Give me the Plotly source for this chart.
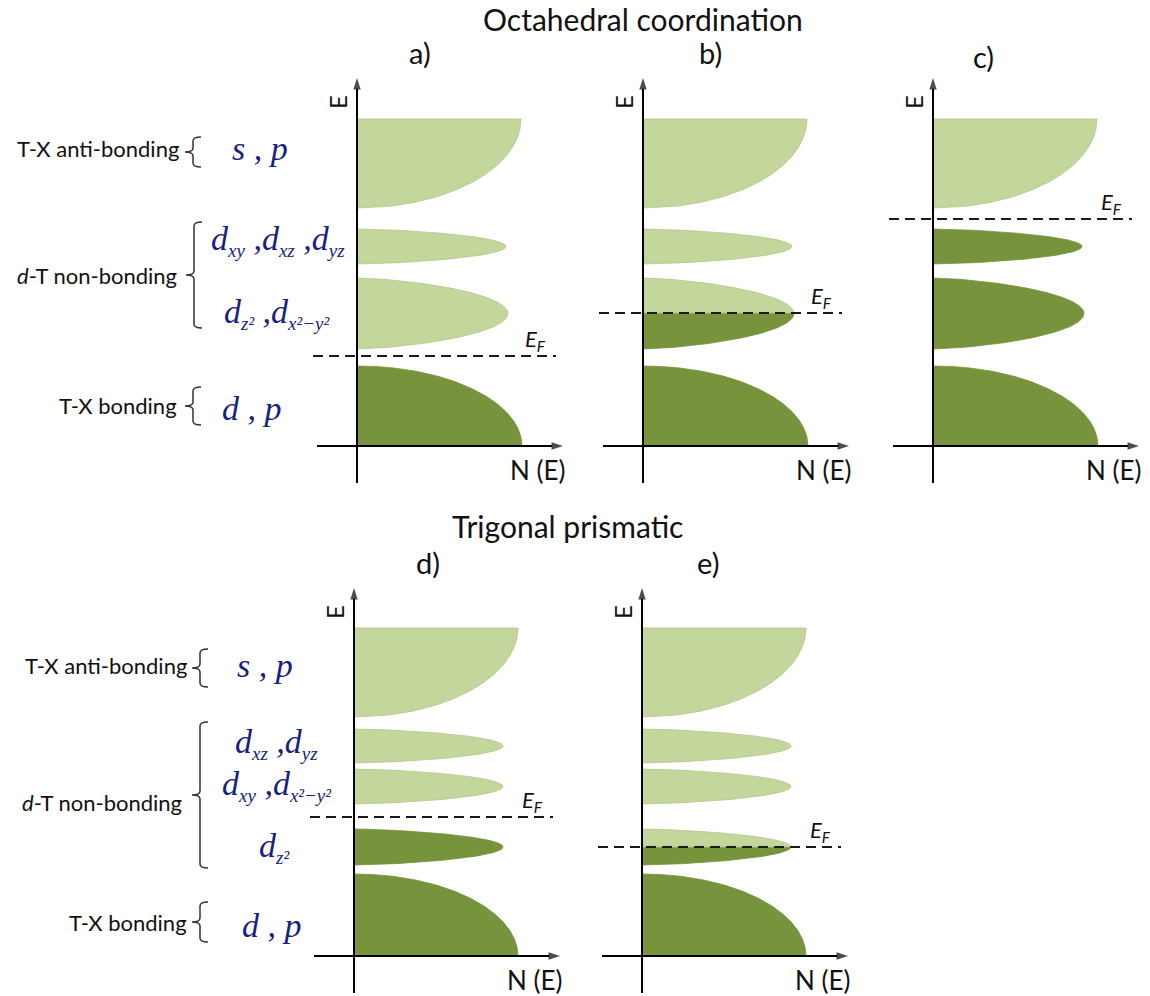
import numpy as np
import plotly.graph_objects as go

FIG_W, FIG_H = 1150, 996

# ---------------- data ----------------
panel_tags = ["a)", "b)", "c)", "d)", "e)"]
row_titles = ["Octahedral coordination", "Trigonal prismatic"]

# Octahedral coordination: bands from bottom to top (energy, arb. units)
oct_kind = ["bottom", "half", "half", "top"]
oct_e_lo = [0.0, 9.7, 18.2, 23.8]
oct_e_hi = [8.0, 16.8, 21.7, 32.7]
oct_dos = [16.5, 15.1, 14.9, 16.4]
oct_fermi = [9.0, 13.3, 22.7]          # panels a, b, c

# Trigonal prismatic coordination
tp_kind = ["bottom", "half", "half", "half", "top"]
tp_e_lo = [0.0, 9.1, 15.2, 19.3, 23.9]
tp_e_hi = [8.2, 12.7, 18.7, 22.7, 32.8]
tp_dos = [16.4, 14.9, 14.9, 14.9, 16.4]
tp_fermi = [13.9, 10.9]                # panels d, e

group_names = ["T-X anti-bonding", "<i>d</i>-T non-bonding", "T-X bonding"]
oct_group_e = [29.8, 17.1, 4.1]
oct_brace_lo = [27.9, 11.8, 2.1]
oct_brace_hi = [30.9, 22.4, 5.9]
tp_group_e = [29.1, 15.4, 3.4]
tp_brace_lo = [26.9, 8.8, 1.4]
tp_brace_hi = [30.7, 23.4, 5.4]

SUB = "<sub><span style='font-size:19px'>{}</span></sub>"
oct_orbitals = ["s , p",
                "d" + SUB.format("xy") + " ,d" + SUB.format("xz") + " ,d" + SUB.format("yz"),
                "d" + SUB.format("z²") + " ,d" + SUB.format("x²−y²"),
                "d , p"]
oct_orbital_e = [29.8, 20.6, 13.3, 3.8]
tp_orbitals = ["s , p",
               "d" + SUB.format("xz") + " ,d" + SUB.format("yz"),
               "d" + SUB.format("xy") + " ,d" + SUB.format("x²−y²"),
               "d" + SUB.format("z²"),
               "d , p"]
tp_orbital_e = [29.1, 21.3, 17.1, 10.9, 3.1]

# ---------------- styling / layout ----------------
LIGHT, LIGHT_EDGE = "#C3D69B", "#B2C78A"
DARK, DARK_EDGE = "#77933C", "#77933C"
SANS = "Lato"
SERIF = "Liberation Serif"
NAVY = "#16237E"
INK = "#111111"

X_RANGE = [-5.0, 21.5]
Y_RANGE = [-4.0, 38.0]
PX_PER_UNIT = 10.0

# origin of each panel (pixel position of the E axis and of the N axis)
panel_origin = [(357, 446), (643, 446), (933, 446), (354, 956), (642, 956)]


def band_outline(kind, lo, hi, w, e0, e1, n=160):
    """Closed outline of the part of a DOS band lying between e0 and e1."""
    e = np.linspace(e0, e1, n)
    if kind == "bottom":
        u = (e - lo) / (hi - lo)
        x = w * np.sqrt(np.clip(1 - u ** 2, 0, None))
    elif kind == "top":
        u = (hi - e) / (hi - lo)
        x = w * np.sqrt(np.clip(1 - u ** 2, 0, None))
    else:
        c, h = (lo + hi) / 2, (hi - lo) / 2
        u = (e - c) / h
        x = w * np.clip(1 - u ** 2, 0, None) ** (1 / 1.5)
    xs = np.concatenate([[0.0], x, [0.0]])
    ys = np.concatenate([[e0], e, [e1]])
    return xs, ys


fig = go.Figure()
layout_axes = {}
annotations = []
shapes = []

panels = [
    (oct_kind, oct_e_lo, oct_e_hi, oct_dos, oct_fermi[0]),
    (oct_kind, oct_e_lo, oct_e_hi, oct_dos, oct_fermi[1]),
    (oct_kind, oct_e_lo, oct_e_hi, oct_dos, oct_fermi[2]),
    (tp_kind, tp_e_lo, tp_e_hi, tp_dos, tp_fermi[0]),
    (tp_kind, tp_e_lo, tp_e_hi, tp_dos, tp_fermi[1]),
]

for i, (kind, e_lo, e_hi, dos, ef) in enumerate(panels):
    k = "" if i == 0 else str(i + 1)
    xa, ya = "x" + k, "y" + k
    ox, oy = panel_origin[i]
    x0 = (ox + X_RANGE[0] * PX_PER_UNIT) / FIG_W
    x1 = (ox + X_RANGE[1] * PX_PER_UNIT) / FIG_W
    y0 = 1 - (oy - Y_RANGE[0] * PX_PER_UNIT) / FIG_H
    y1 = 1 - (oy - Y_RANGE[1] * PX_PER_UNIT) / FIG_H
    layout_axes["xaxis" + k] = dict(domain=[x0, x1], range=X_RANGE, visible=False,
                                    anchor=ya, fixedrange=True)
    layout_axes["yaxis" + k] = dict(domain=[max(y0, 0), min(y1, 1)], range=Y_RANGE,
                                    visible=False, anchor=xa, fixedrange=True)

    # bands: occupied part below E_F is dark, empty part above is light
    for kd, lo, hi, w in zip(kind, e_lo, e_hi, dos):
        parts = []
        if hi <= ef:
            parts.append((lo, hi, DARK, DARK_EDGE))
        elif lo >= ef:
            parts.append((lo, hi, LIGHT, LIGHT_EDGE))
        else:
            parts.append((lo, ef, DARK, DARK_EDGE))
            parts.append((ef, hi, LIGHT, LIGHT_EDGE))
        for e0, e1, fc, lc in parts:
            xs, ys = band_outline(kd, lo, hi, w, e0, e1)
            fig.add_trace(go.Scatter(x=xs, y=ys, xaxis=xa, yaxis=ya, mode="lines",
                                     fill="toself", fillcolor=fc,
                                     line=dict(color=lc, width=0.8),
                                     hoverinfo="skip", showlegend=False))

    # Fermi level
    fig.add_trace(go.Scatter(x=[-4.4, 19.9], y=[ef, ef], xaxis=xa, yaxis=ya,
                             mode="lines", line=dict(color="#1a1a1a", width=2, dash="10px,6px"),
                             hoverinfo="skip", showlegend=False))
    annotations.append(dict(x=17.8, y=ef + 1.6, xref=xa, yref=ya, showarrow=False,
                            xanchor="center", yanchor="middle",
                            text="<i>E<sub>F</sub></i>", font=dict(family=SANS, size=22, color=INK)))

    # E and N(E) axes with arrow heads
    for ax_x, ax_y in (([0, 0], [-3.7, 36.8]), ([-4.0, 20.6], [0, 0])):
        fig.add_trace(go.Scatter(x=ax_x, y=ax_y, xaxis=xa, yaxis=ya, mode="lines+markers",
                                 line=dict(color="#000", width=2),
                                 marker=dict(symbol="arrow", size=[0, 12], angleref="previous",
                                             color="#000", line=dict(width=0)),
                                 hoverinfo="skip", showlegend=False))
    annotations.append(dict(x=-2.0, y=34.4, xref=xa, yref=ya, showarrow=False, text="E",
                            xanchor="center", yanchor="middle",
                            textangle=-90, font=dict(family=SANS, size=24, color=INK)))
    annotations.append(dict(x=18.0, y=-2.4, xref=xa, yref=ya, showarrow=False, text="N (E)",
                            xanchor="center", yanchor="middle",
                            font=dict(family=SANS, size=26, color=INK)))

# panel tags and row titles (pixel positions)
tag_pos = [(420, 53), (710, 53), (983, 56), (428, 562), (708, 562)]
for tag, (px, py) in zip(panel_tags, tag_pos):
    annotations.append(dict(x=px / FIG_W, y=1 - py / FIG_H, xref="paper", yref="paper",
                            xanchor="center", yanchor="middle",
                            showarrow=False, text=tag, font=dict(family=SANS, size=29, color=INK)))
for title, (px, py) in zip(row_titles, [(643, 19), (567, 526)]):
    annotations.append(dict(x=px / FIG_W, y=1 - py / FIG_H, xref="paper", yref="paper",
                            xanchor="center", yanchor="middle",
                            showarrow=False, text=title, font=dict(family=SANS, size=30, color=INK)))


def brace_path(xv, lo, hi, hook, tick, c):
    mid = (lo + hi) / 2
    return (f"M {xv + hook},{hi} Q {xv},{hi} {xv},{hi - c} "
            f"L {xv},{mid + c} Q {xv},{mid} {xv - tick},{mid} "
            f"Q {xv},{mid} {xv},{mid - c} "
            f"L {xv},{lo + c} Q {xv},{lo} {xv + hook},{lo}")


rows = [
    dict(ya="y", group_e=oct_group_e, lo=oct_brace_lo, hi=oct_brace_hi,
         orbitals=oct_orbitals, orb_e=oct_orbital_e, orb_x=[260, 278, 276, 252],
         label_right=[181, 179, 179], brace_x=[193, 194, 193]),
    dict(ya="y4", group_e=tp_group_e, lo=tp_brace_lo, hi=tp_brace_hi,
         orbitals=tp_orbitals, orb_e=tp_orbital_e, orb_x=[265, 276, 276, 274, 272],
         label_right=[189, 184, 189], brace_x=[200, 200, 200]),
]

for r in rows:
    for name, e, lo, hi, rx, bx in zip(group_names, r["group_e"], r["lo"], r["hi"],
                                       r["label_right"], r["brace_x"]):
        annotations.append(dict(x=rx / FIG_W, y=e, xref="paper", yref=r["ya"],
                                xanchor="right", yanchor="middle",
                                showarrow=False, text=name,
                                font=dict(family=SANS, size=22, color=INK)))
        hook, tick = 8 / FIG_W, 8 / FIG_W
        shapes.append(dict(type="path", xref="paper", yref=r["ya"],
                           path=brace_path(bx / FIG_W, lo, hi, hook, tick, 0.4),
                           line=dict(color="#333333", width=1.5)))
    for txt, e, px in zip(r["orbitals"], r["orb_e"], r["orb_x"]):
        annotations.append(dict(x=px / FIG_W, y=e, xref="paper", yref=r["ya"],
                                xanchor="center", yanchor="middle",
                                showarrow=False, text=txt,
                                font=dict(family=SERIF, size=34, color=NAVY, style="italic")))

fig.update_layout(width=FIG_W, height=FIG_H, margin=dict(l=0, r=0, t=0, b=0),
                  paper_bgcolor="white", plot_bgcolor="white",
                  annotations=annotations, shapes=shapes, showlegend=False,
                  **layout_axes)

fig.write_html("out.html", config=dict(displayModeBar=False))
